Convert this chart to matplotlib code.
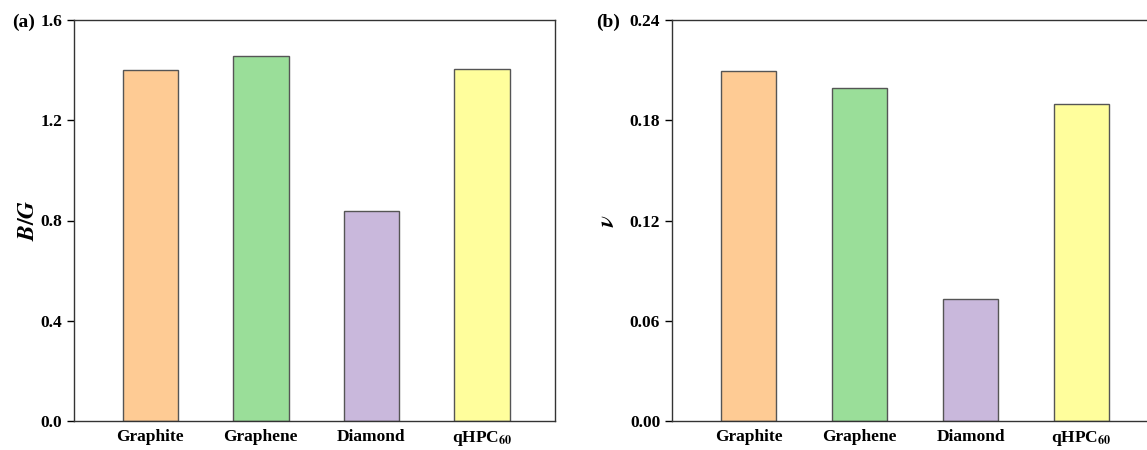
import matplotlib.pyplot as plt

plt.rcParams['font.family'] = ['Liberation Serif', 'DejaVu Serif']
plt.rcParams['mathtext.fontset'] = 'stix'
plt.rcParams['font.weight'] = 'bold'

materials = ["Graphite", "Graphene", "Diamond", r"qHPC$_{\mathbf{60}}$"]
bg_ratio = [1.400, 1.456, 0.838, 1.404]
poisson = [0.2095, 0.1993, 0.073, 0.1897]
colors = ["#FECB94", "#9ADE99", "#C9B8DC", "#FFFE9C"]

fig = plt.figure(figsize=(11.47, 4.5), dpi=100)
ax1 = fig.add_axes([74 / 1147, 29 / 450, 481 / 1147, 401 / 450])
ax2 = fig.add_axes([672 / 1147, 29 / 450, 483 / 1147, 401 / 450])

# ax, values, ylim, ticks, format, ylabel, ylabel x, tag x, panel tag
panels = [
    (ax1, bg_ratio, (0, 1.6), [0, 0.4, 0.8, 1.2, 1.6], "{:.1f}", r"$\boldsymbol{B/G}$", -0.073, -0.129, "(a)"),
    (ax2, poisson, (0, 0.24), [0, 0.06, 0.12, 0.18, 0.24], "{:.2f}", r"$\boldsymbol{\nu}$", -0.110, -0.157, "(b)"),
]

for ax, vals, ylim, ticks, fmt, ylab, labx, tagx, tag in panels:
    x = range(len(materials))
    ax.bar(x, vals, width=0.5, color=colors, edgecolor="#555555", linewidth=1)
    ax.set_xlim(-0.69, 3.66)
    ax.set_ylim(*ylim)
    ax.set_yticks(ticks)
    ax.set_yticklabels([fmt.format(t) for t in ticks], fontsize=12.5, fontweight="bold")
    ax.set_xticks(list(x))
    ax.set_xticklabels(materials, fontsize=12.5, fontweight="bold")
    ax.tick_params(axis="x", length=0, pad=6)
    ax.tick_params(axis="y", direction="out", length=5, width=1)
    for s in ax.spines.values():
        s.set_linewidth(1)
        s.set_color("#333333")
    ax.set_ylabel(ylab, fontsize=17)
    ax.yaxis.set_label_coords(labx, 0.5)
    ax.text(tagx, 0.995, tag, transform=ax.transAxes, fontsize=14,
            fontweight="bold", ha="left", va="center")

fig.savefig("out.png", dpi=100)
